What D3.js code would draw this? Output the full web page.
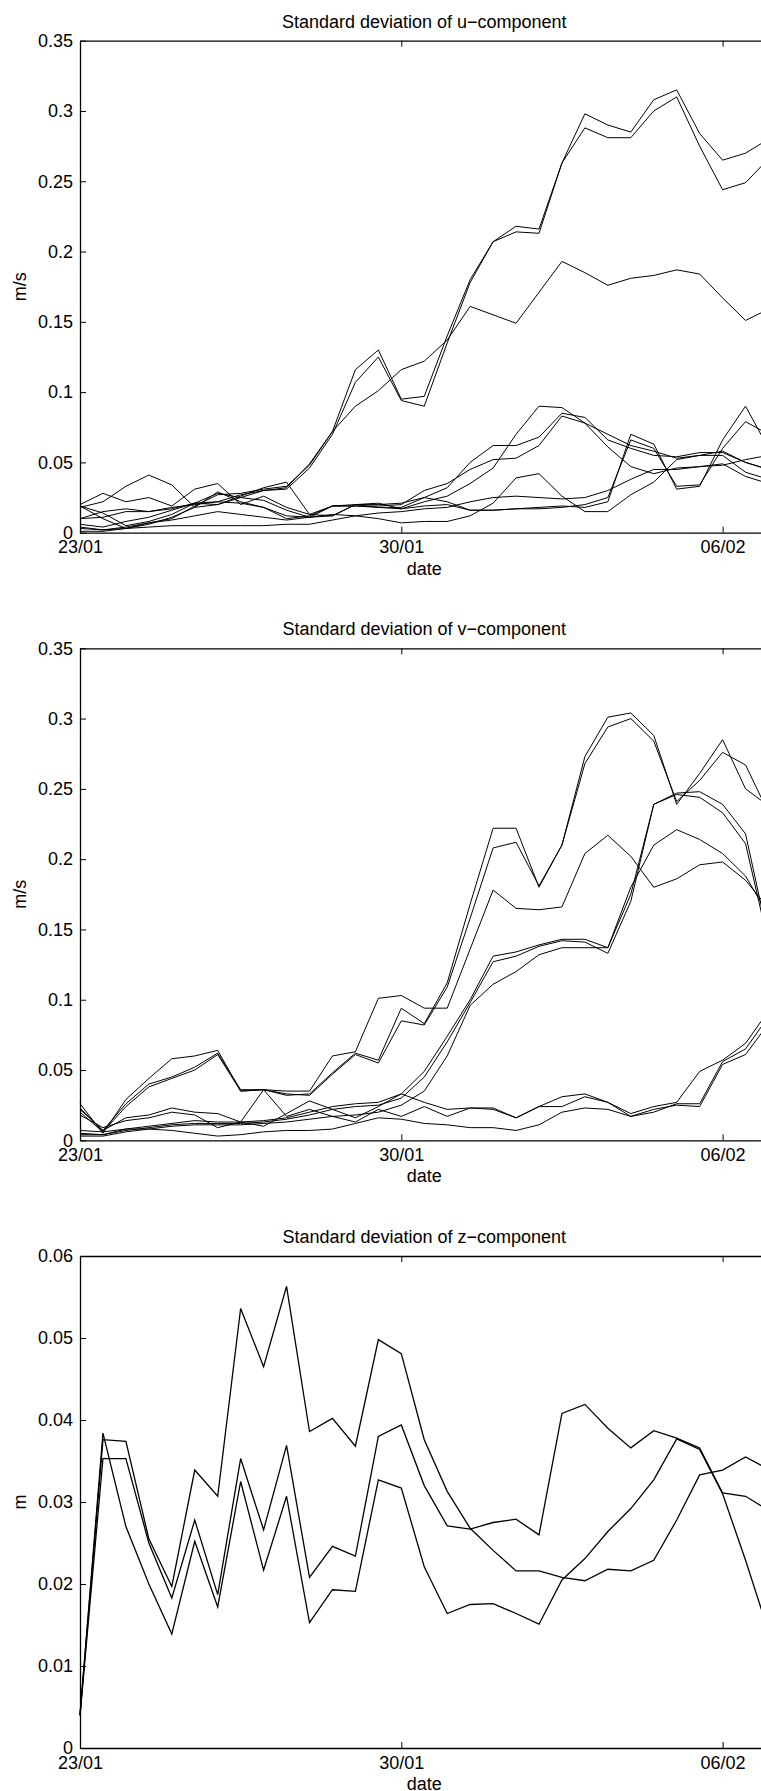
<!doctype html>
<html>
<head>
<meta charset="UTF-8">
<title>std u v z</title>
<script src="https://d3js.org/d3.v7.min.js"></script>
<style>
  body { margin: 0; background: #fff; }
  svg { display: block; }
  text { font-family: "Liberation Sans", Arial, Helvetica, sans-serif; fill: #000; }
</style>
</head>
<body>
<svg width="761" height="1791"></svg>
<script>
// 31 samples, every 12 h from 23/01 00:00 to 07/02 00:00
var startDate = new Date(2004, 0, 23);
var dateTicks = [new Date(2004, 0, 23), new Date(2004, 0, 30), new Date(2004, 1, 6)];
var dateLabels = ["23/01", "30/01", "06/02"];

var uTicks = [0, 0.05, 0.1, 0.15, 0.2, 0.25, 0.3, 0.35];
var vTicks = [0, 0.05, 0.1, 0.15, 0.2, 0.25, 0.3, 0.35];
var zTicks = [0, 0.01, 0.02, 0.03, 0.04, 0.05, 0.06];

// standard deviation of u-component (m/s)
var uLines = [
  [0.019,0.010,0.003,0.007,0.010,0.019,0.027,0.028,0.031,0.033,0.048,0.072,0.116,0.130,0.095,0.097,0.140,0.180,0.207,0.218,0.216,0.263,0.298,0.290,0.285,0.308,0.315,0.284,0.265,0.270,0.280],
  [0.019,0.014,0.005,0.008,0.013,0.021,0.028,0.025,0.030,0.031,0.046,0.070,0.107,0.125,0.094,0.090,0.135,0.178,0.207,0.214,0.213,0.263,0.288,0.281,0.281,0.300,0.310,0.275,0.244,0.249,0.266],
  [0.010,0.015,0.017,0.015,0.018,0.020,0.022,0.027,0.030,0.032,0.049,0.072,0.090,0.101,0.116,0.122,0.137,0.161,0.155,0.149,0.171,0.193,0.185,0.176,0.181,0.183,0.187,0.184,0.167,0.151,0.159],
  [0.003,0.002,0.003,0.004,0.005,0.005,0.005,0.005,0.005,0.006,0.006,0.009,0.012,0.010,0.007,0.008,0.008,0.012,0.021,0.039,0.042,0.026,0.015,0.015,0.027,0.036,0.052,0.055,0.055,0.043,0.038],
  [0.020,0.028,0.022,0.025,0.019,0.031,0.035,0.020,0.026,0.018,0.013,0.019,0.020,0.021,0.017,0.022,0.026,0.035,0.046,0.070,0.090,0.089,0.078,0.061,0.047,0.042,0.046,0.047,0.049,0.040,0.035],
  [0.006,0.004,0.008,0.011,0.016,0.021,0.022,0.021,0.018,0.010,0.012,0.019,0.019,0.019,0.020,0.030,0.035,0.045,0.052,0.053,0.062,0.083,0.078,0.070,0.062,0.058,0.053,0.055,0.058,0.050,0.045],
  [0.018,0.022,0.033,0.041,0.034,0.018,0.020,0.026,0.032,0.036,0.013,0.012,0.020,0.020,0.021,0.025,0.032,0.050,0.062,0.062,0.068,0.085,0.082,0.066,0.060,0.055,0.054,0.057,0.057,0.050,0.045],
  [0.004,0.002,0.004,0.007,0.009,0.012,0.015,0.013,0.011,0.009,0.011,0.012,0.020,0.018,0.017,0.019,0.020,0.016,0.016,0.017,0.018,0.019,0.018,0.022,0.070,0.063,0.031,0.033,0.066,0.090,0.060],
  [0.001,0.001,0.003,0.006,0.011,0.018,0.029,0.022,0.018,0.012,0.011,0.019,0.019,0.018,0.018,0.025,0.022,0.016,0.016,0.017,0.017,0.018,0.020,0.025,0.066,0.060,0.033,0.034,0.060,0.079,0.070],
  [0.010,0.011,0.015,0.015,0.017,0.021,0.020,0.025,0.023,0.016,0.011,0.013,0.012,0.014,0.015,0.017,0.018,0.022,0.025,0.026,0.025,0.024,0.025,0.030,0.038,0.045,0.045,0.047,0.048,0.052,0.055]
];

// standard deviation of v-component (m/s)
var vLines = [
  [0.023,0.007,0.026,0.040,0.045,0.052,0.062,0.036,0.036,0.032,0.033,0.048,0.062,0.057,0.094,0.083,0.112,0.168,0.222,0.222,0.180,0.210,0.273,0.301,0.304,0.288,0.239,0.261,0.285,0.250,0.238],
  [0.020,0.006,0.024,0.038,0.044,0.050,0.061,0.035,0.036,0.033,0.032,0.047,0.061,0.055,0.085,0.082,0.109,0.158,0.208,0.212,0.181,0.210,0.268,0.294,0.300,0.284,0.241,0.256,0.276,0.267,0.233],
  [0.026,0.005,0.029,0.044,0.058,0.060,0.064,0.035,0.036,0.035,0.035,0.060,0.063,0.101,0.103,0.094,0.094,0.136,0.178,0.165,0.164,0.166,0.204,0.217,0.202,0.180,0.186,0.196,0.198,0.185,0.165],
  [0.005,0.004,0.008,0.010,0.012,0.014,0.013,0.013,0.014,0.016,0.020,0.024,0.026,0.027,0.033,0.049,0.074,0.100,0.131,0.134,0.139,0.143,0.143,0.137,0.175,0.239,0.247,0.248,0.239,0.218,0.143],
  [0.004,0.004,0.007,0.009,0.011,0.012,0.012,0.012,0.013,0.015,0.018,0.022,0.024,0.025,0.030,0.045,0.070,0.098,0.127,0.131,0.138,0.142,0.141,0.133,0.170,0.239,0.246,0.244,0.233,0.211,0.140],
  [0.003,0.003,0.006,0.008,0.010,0.011,0.011,0.011,0.012,0.013,0.015,0.017,0.018,0.020,0.025,0.035,0.060,0.096,0.111,0.120,0.132,0.137,0.137,0.137,0.180,0.210,0.221,0.214,0.204,0.188,0.160],
  [0.022,0.007,0.016,0.018,0.023,0.020,0.019,0.013,0.010,0.019,0.028,0.022,0.016,0.024,0.033,0.027,0.022,0.023,0.023,0.016,0.024,0.031,0.033,0.027,0.019,0.024,0.027,0.049,0.057,0.069,0.092],
  [0.018,0.009,0.014,0.016,0.020,0.018,0.009,0.013,0.036,0.017,0.022,0.017,0.013,0.022,0.017,0.024,0.017,0.023,0.022,0.016,0.024,0.024,0.031,0.027,0.017,0.022,0.025,0.024,0.054,0.061,0.083],
  [0.007,0.006,0.008,0.008,0.007,0.005,0.003,0.004,0.006,0.007,0.007,0.008,0.012,0.016,0.015,0.012,0.011,0.009,0.009,0.007,0.011,0.020,0.023,0.022,0.017,0.020,0.026,0.026,0.056,0.065,0.088]
];

// standard deviation of z-component (m)
var zLines = [
  [0.0040,0.0376,0.0374,0.0255,0.0197,0.0339,0.0307,0.0536,0.0465,0.0563,0.0386,0.0402,0.0368,0.0498,0.0481,0.0376,0.0313,0.0268,0.0241,0.0216,0.0216,0.0208,0.0204,0.0218,0.0216,0.0229,0.0278,0.0333,0.0339,0.0355,0.0340],
  [0.0040,0.0353,0.0353,0.0250,0.0183,0.0278,0.0187,0.0353,0.0266,0.0369,0.0208,0.0246,0.0234,0.0380,0.0394,0.0320,0.0271,0.0267,0.0275,0.0279,0.0260,0.0408,0.0419,0.0390,0.0366,0.0387,0.0378,0.0366,0.0311,0.0307,0.0290],
  [0.0040,0.0384,0.0270,0.0200,0.0139,0.0252,0.0172,0.0325,0.0217,0.0307,0.0153,0.0193,0.0191,0.0327,0.0317,0.0221,0.0164,0.0175,0.0176,0.0164,0.0151,0.0205,0.0231,0.0264,0.0292,0.0327,0.0377,0.0364,0.0310,0.0229,0.0142]
];

var svg = d3.select("svg");
var left = 80, right = 768.5, h = 492;

var x = d3.scaleTime()
    .domain([startDate, d3.timeHour.offset(startDate, 12 * 30)])
    .range([left, right]);

function fmt(d) {
  return d === 0 ? "0" : d3.format(".2~f")(d);
}

function panel(top, ticks, lines, title, ylab, lw) {
  var y = d3.scaleLinear().domain([0, ticks[ticks.length - 1]]).range([top + h, top]);
  var g = svg.append("g");

  var line = d3.line()
      .x(function(d, i) { return x(d3.timeHour.offset(startDate, 12 * i)); })
      .y(function(d) { return y(d); });

  g.selectAll("path.series").data(lines).enter().append("path")
      .attr("class", "series")
      .attr("d", line)
      .attr("fill", "none")
      .attr("stroke", "#000")
      .attr("stroke-width", lw)
      .attr("stroke-linejoin", "miter");

  // axes, ticks pointing inwards
  var ax = g.append("g").attr("transform", "translate(0," + (top + h) + ")")
      .call(d3.axisBottom(x).tickValues(dateTicks).tickSizeInner(-6).tickSizeOuter(0).tickPadding(8)
        .tickFormat(function(d, i) { return dateLabels[i]; }));
  var axTop = g.append("g").attr("transform", "translate(0," + top + ")")
      .call(d3.axisTop(x).tickValues(dateTicks).tickSizeInner(-6).tickSizeOuter(0).tickFormat(""));
  var ay = g.append("g").attr("transform", "translate(" + left + ",0)")
      .call(d3.axisLeft(y).tickValues(ticks).tickSizeInner(-6).tickSizeOuter(0).tickPadding(7).tickFormat(fmt));
  var ayR = g.append("g").attr("transform", "translate(" + right + ",0)")
      .call(d3.axisRight(y).tickValues(ticks).tickSizeInner(-6).tickSizeOuter(0).tickFormat(""));

  [ax, axTop, ay, ayR].forEach(function(a) {
    a.selectAll(".domain").attr("stroke", "#000").attr("stroke-width", 1.3);
    a.selectAll(".tick line").attr("stroke", "#000").attr("stroke-width", 1);
    a.selectAll("text").attr("font-size", 18).attr("font-family", null);
  });

  g.append("text")
      .attr("x", (left + right) / 2)
      .attr("y", top - 13)
      .attr("text-anchor", "middle")
      .attr("font-size", 18)
      .text(title);

  g.append("text")
      .attr("x", (left + right) / 2)
      .attr("y", top + h + 42)
      .attr("text-anchor", "middle")
      .attr("font-size", 18)
      .text("date");

  g.append("text")
      .attr("transform", "translate(26," + (top + h / 2) + ") rotate(-90)")
      .attr("text-anchor", "middle")
      .attr("font-size", 18)
      .text(ylab);
}

panel(40.7, uTicks, uLines, "Standard deviation of u\u2212component", "m/s", 1);
panel(648.3, vTicks, vLines, "Standard deviation of v\u2212component", "m/s", 1);
panel(1256, zTicks, zLines, "Standard deviation of z\u2212component", "m", 1.3);
</script>
</body>
</html>
